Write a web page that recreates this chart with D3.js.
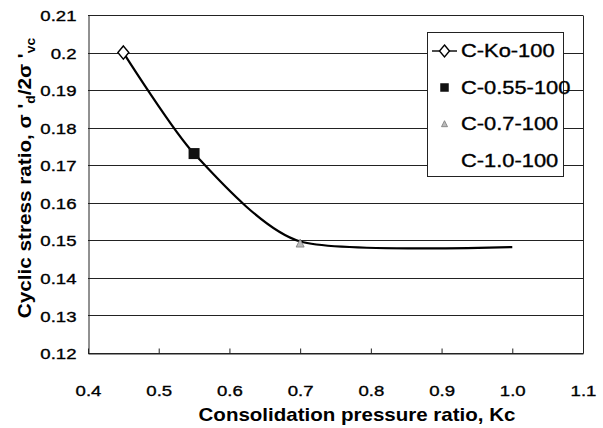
<!DOCTYPE html>
<html>
<head>
<meta charset="utf-8">
<script src="https://cdn.jsdelivr.net/npm/d3@7"></script>
<style>
  html, body { margin: 0; padding: 0; background: #fff; }
  svg { display: block; font-family: "Liberation Sans", Arial, sans-serif; }
</style>
</head>
<body>
<svg id="chart" width="603" height="428"></svg>
<script>
// ---- data ----
const seriesNames = ["C-Ko-100", "C-0.55-100", "C-0.7-100", "C-1.0-100"];
const kcValues = [0.45, 0.55, 0.70, 1.00];
const csrValues = [0.200, 0.1731, 0.1497, 0.1482];
const xTickValues = [0.4, 0.5, 0.6, 0.7, 0.8, 0.9, 1.0, 1.1];
const xTickLabels = ["0.4", "0.5", "0.6", "0.7", "0.8", "0.9", "1.0", "1.1"];
const yTickValues = [0.12, 0.13, 0.14, 0.15, 0.16, 0.17, 0.18, 0.19, 0.20, 0.21];
const yTickLabels = ["0.12", "0.13", "0.14", "0.15", "0.16", "0.17", "0.18", "0.19", "0.2", "0.21"];
const xTitle = "Consolidation pressure ratio, Kc";

// ---- layout ----
const L = 88, R = 583, T = 15, B = 353;
const svg = d3.select("#chart");
const x = d3.scaleLinear().domain([0.4, 1.1]).range([L, R]);
const y = d3.scaleLinear().domain([0.12, 0.21]).range([B, T]);

// gridlines
svg.append("g").selectAll("line").data(yTickValues).join("line")
  .attr("x1", L).attr("x2", R)
  .attr("y1", d => Math.round(y(d)) + 0.5).attr("y2", d => Math.round(y(d)) + 0.5)
  .attr("stroke", "#222").attr("stroke-width", 1);

// right border
svg.append("line").attr("x1", R + 0.5).attr("x2", R + 0.5).attr("y1", Math.round(T) + 0.5).attr("y2", B + 0.5)
  .attr("stroke", "#222").attr("stroke-width", 1);

// x axis
const xAxis = d3.axisBottom(x).tickValues(xTickValues)
  .tickFormat((d, i) => xTickLabels[i]).tickSizeInner(-5).tickSizeOuter(0).tickPadding(31);
const gx = svg.append("g").attr("transform", `translate(0,${B + 0.5})`).call(xAxis);
gx.select(".domain").attr("stroke", "#222");
gx.selectAll(".tick line").attr("stroke", "#222");
gx.selectAll(".tick text").attr("font-size", 15.5).attr("fill", "#000")
  .attr("stroke", "#000").attr("stroke-width", 0.35)
  .attr("font-family", "Liberation Sans, Arial, sans-serif")
  .attr("transform", "scale(1.2,1)");

// y axis
const yAxis = d3.axisLeft(y).tickValues(yTickValues)
  .tickFormat((d, i) => yTickLabels[i]).tickSize(0).tickPadding(0);
const gy = svg.append("g").attr("transform", `translate(${L + 0.5},0)`).call(yAxis);
gy.select(".domain").attr("stroke", "#222");
gy.selectAll(".tick text").attr("font-size", 15.5).attr("fill", "#000")
  .attr("stroke", "#000").attr("stroke-width", 0.35)
  .attr("font-family", "Liberation Sans, Arial, sans-serif")
  .attr("x", 0).attr("dy", "0.36em")
  .attr("transform", "translate(-12,0) scale(1.2,1)");

// smoothed line
const pts = kcValues.map((k, i) => [k, csrValues[i]]);
const line = d3.line().x(d => x(d[0])).y(d => y(d[1])).curve(d3.curveCardinal.tension(0.3));
svg.append("path").attr("d", line(pts)).attr("fill", "none")
  .attr("stroke", "#000").attr("stroke-width", 2.2);

// markers
function drawMarker(g, type, cx, cy, s) {
  if (type === 0) {
    g.append("path").attr("d", `M${cx},${cy - s * 0.6}L${cx + s * 0.5},${cy}L${cx},${cy + s * 0.6}L${cx - s * 0.5},${cy}Z`)
      .attr("fill", "#fff").attr("stroke", "#000").attr("stroke-width", 1.4);
  } else if (type === 1) {
    g.append("rect").attr("x", cx - s / 2).attr("y", cy - s / 2).attr("width", s).attr("height", s)
      .attr("fill", "#111");
  } else if (type === 2) {
    g.append("path").attr("d", `M${cx},${cy - s * 0.55}L${cx + s * 0.5},${cy + s * 0.45}L${cx - s * 0.5},${cy + s * 0.45}Z`)
      .attr("fill", "#bbb").attr("stroke", "#777").attr("stroke-width", 0.8);
  }
}
const gm = svg.append("g");
const markerSizes = [11, 11, 8, 0];
kcValues.forEach((k, i) => drawMarker(gm, i, x(k), y(csrValues[i]) + (i === 2 ? 2 : 0), markerSizes[i]));

// legend
const lg = svg.append("g");
lg.append("rect").attr("x", 427.5).attr("y", 32.5).attr("width", 136).attr("height", 144)
  .attr("fill", "#fff").attr("stroke", "#222").attr("stroke-width", 1);
seriesNames.forEach((name, i) => {
  const cy = 51 + i * 36.5;
  if (i === 0) {
    lg.append("line").attr("x1", 432).attr("x2", 457).attr("y1", cy).attr("y2", cy)
      .attr("stroke", "#000").attr("stroke-width", 1.4);
  }
  drawMarker(lg, i, 444.5, cy, [10, 8.5, 6, 0][i]);
  lg.append("text").attr("transform", `translate(461,${cy}) scale(1.25,1)`)
    .attr("dy", "0.36em").attr("font-size", 17.5).attr("fill", "#000")
    .attr("stroke", "#000").attr("stroke-width", 0.35).text(name);
});

// axis titles
svg.append("text").attr("transform", `translate(357,421) scale(1.14,1)`)
  .attr("text-anchor", "middle").attr("font-size", 18).attr("font-weight", "bold").attr("fill", "#000")
  .text(xTitle);

const yt = svg.append("text").attr("transform", `translate(31,178) rotate(-90) scale(1.15,1)`)
  .attr("text-anchor", "middle").attr("font-size", 18).attr("font-weight", "bold").attr("fill", "#000");
yt.append("tspan").text("Cyclic stress ratio, σ ");
yt.append("tspan").text("'");
yt.append("tspan").attr("font-size", 12).attr("dy", 4).text("d");
yt.append("tspan").attr("dy", -4).text("/2σ ");
yt.append("tspan").text("'");
yt.append("tspan").attr("font-size", 12).attr("dy", 4).text("vc");
</script>
</body>
</html>
